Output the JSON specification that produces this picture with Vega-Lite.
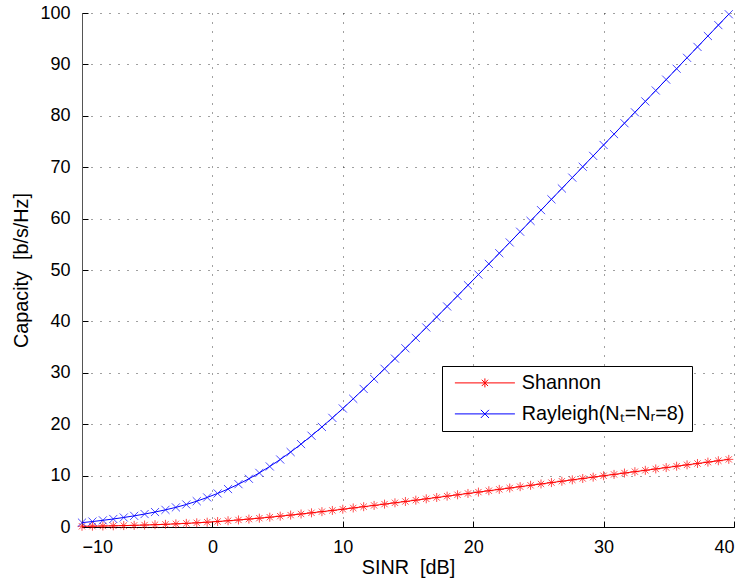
{
  "$schema": "https://vega.github.io/schema/vega-lite/v6.json",
  "width": 652,
  "height": 514,
  "autosize": {"type": "none"},
  "padding": {"left": 82, "top": 13, "right": 11, "bottom": 54},
  "background": "#ffffff",
  "data": {
    "values": [
      {"snr": -10, "Shannon": 0.1375, "Rayleigh": 0.85},
      {"snr": -9.2, "Shannon": 0.1637, "Rayleigh": 1.06},
      {"snr": -8.4, "Shannon": 0.1947, "Rayleigh": 1.3},
      {"snr": -7.6, "Shannon": 0.2312, "Rayleigh": 1.56},
      {"snr": -6.8, "Shannon": 0.2737, "Rayleigh": 1.85},
      {"snr": -6, "Shannon": 0.3233, "Rayleigh": 2.17},
      {"snr": -5.2, "Shannon": 0.3807, "Rayleigh": 2.52},
      {"snr": -4.4, "Shannon": 0.4469, "Rayleigh": 2.91},
      {"snr": -3.6, "Shannon": 0.5225, "Rayleigh": 3.34},
      {"snr": -2.8, "Shannon": 0.6086, "Rayleigh": 3.82},
      {"snr": -2, "Shannon": 0.7058, "Rayleigh": 4.38},
      {"snr": -1.2, "Shannon": 0.8144, "Rayleigh": 5.02},
      {"snr": -0.4, "Shannon": 0.9351, "Rayleigh": 5.75},
      {"snr": 0.4, "Shannon": 1.068, "Rayleigh": 6.53},
      {"snr": 1.2, "Shannon": 1.2131, "Rayleigh": 7.38},
      {"snr": 2, "Shannon": 1.3701, "Rayleigh": 8.33},
      {"snr": 2.8, "Shannon": 1.5388, "Rayleigh": 9.38},
      {"snr": 3.6, "Shannon": 1.7185, "Rayleigh": 10.53},
      {"snr": 4.4, "Shannon": 1.9085, "Rayleigh": 11.78},
      {"snr": 5.2, "Shannon": 2.1081, "Rayleigh": 13.13},
      {"snr": 6, "Shannon": 2.3165, "Rayleigh": 14.58},
      {"snr": 6.8, "Shannon": 2.5326, "Rayleigh": 16.13},
      {"snr": 7.6, "Shannon": 2.7558, "Rayleigh": 17.76},
      {"snr": 8.4, "Shannon": 2.9852, "Rayleigh": 19.46},
      {"snr": 9.2, "Shannon": 3.22, "Rayleigh": 21.23},
      {"snr": 10, "Shannon": 3.4594, "Rayleigh": 23.06},
      {"snr": 10.8, "Shannon": 3.703, "Rayleigh": 24.94},
      {"snr": 11.6, "Shannon": 3.9499, "Rayleigh": 26.86},
      {"snr": 12.4, "Shannon": 4.1999, "Rayleigh": 28.81},
      {"snr": 13.2, "Shannon": 4.4524, "Rayleigh": 30.78},
      {"snr": 14, "Shannon": 4.707, "Rayleigh": 32.76},
      {"snr": 14.8, "Shannon": 4.9635, "Rayleigh": 34.77},
      {"snr": 15.6, "Shannon": 5.2214, "Rayleigh": 36.79},
      {"snr": 16.4, "Shannon": 5.4807, "Rayleigh": 38.82},
      {"snr": 17.2, "Shannon": 5.7409, "Rayleigh": 40.86},
      {"snr": 18, "Shannon": 6.0022, "Rayleigh": 42.91},
      {"snr": 18.8, "Shannon": 6.2642, "Rayleigh": 44.97},
      {"snr": 19.6, "Shannon": 6.5267, "Rayleigh": 47.04},
      {"snr": 20.4, "Shannon": 6.7899, "Rayleigh": 49.11},
      {"snr": 21.2, "Shannon": 7.0534, "Rayleigh": 51.19},
      {"snr": 22, "Shannon": 7.3173, "Rayleigh": 53.27},
      {"snr": 22.8, "Shannon": 7.5815, "Rayleigh": 55.36},
      {"snr": 23.6, "Shannon": 7.846, "Rayleigh": 57.45},
      {"snr": 24.4, "Shannon": 8.1107, "Rayleigh": 59.55},
      {"snr": 25.2, "Shannon": 8.3756, "Rayleigh": 61.65},
      {"snr": 26, "Shannon": 8.6406, "Rayleigh": 63.75},
      {"snr": 26.8, "Shannon": 8.9058, "Rayleigh": 65.86},
      {"snr": 27.6, "Shannon": 9.171, "Rayleigh": 67.97},
      {"snr": 28.4, "Shannon": 9.4364, "Rayleigh": 70.08},
      {"snr": 29.2, "Shannon": 9.7018, "Rayleigh": 72.2},
      {"snr": 30, "Shannon": 9.9672, "Rayleigh": 74.32},
      {"snr": 30.8, "Shannon": 10.2327, "Rayleigh": 76.44},
      {"snr": 31.6, "Shannon": 10.4982, "Rayleigh": 78.56},
      {"snr": 32.4, "Shannon": 10.7637, "Rayleigh": 80.68},
      {"snr": 33.2, "Shannon": 11.0292, "Rayleigh": 82.8},
      {"snr": 34, "Shannon": 11.2948, "Rayleigh": 84.92},
      {"snr": 34.8, "Shannon": 11.5603, "Rayleigh": 87.04},
      {"snr": 35.6, "Shannon": 11.8259, "Rayleigh": 89.16},
      {"snr": 36.4, "Shannon": 12.0914, "Rayleigh": 91.28},
      {"snr": 37.2, "Shannon": 12.357, "Rayleigh": 93.4},
      {"snr": 38, "Shannon": 12.6226, "Rayleigh": 95.52},
      {"snr": 38.8, "Shannon": 12.8882, "Rayleigh": 97.64},
      {"snr": 39.6, "Shannon": 13.1538, "Rayleigh": 99.76}
    ]
  },
  "transform": [
    {"fold": ["Shannon", "Rayleigh"], "as": ["series", "capacity"]}
  ],
  "encoding": {
    "x": {
      "field": "snr", "type": "quantitative",
      "scale": {"domain": [-10, 40], "nice": false, "zero": false},
      "axis": {"title": "SINR \u00a0[dB]", "values": [-10, 0, 10, 20, 30, 40], "tickSize": -6, "labelPadding": 17, "titlePadding": 1}
    },
    "y": {
      "field": "capacity", "type": "quantitative",
      "scale": {"domain": [0, 100], "nice": false},
      "axis": {"title": "Capacity \u00a0[b/s/Hz]", "values": [0, 10, 20, 30, 40, 50, 60, 70, 80, 90, 100], "tickSize": -6, "labelPadding": 18, "titlePadding": 8}
    },
    "color": {
      "field": "series", "type": "nominal",
      "scale": {"domain": ["Shannon", "Rayleigh"], "range": ["#ff0000", "#0000ff"]},
      "legend": {
        "orient": "none", "legendX": 360, "legendY": 353,
        "title": null, "fillColor": "#ffffff", "strokeColor": "#000000", "padding": 7, "cornerRadius": 0,
        "labelFont": "Liberation Sans", "labelFontSize": 19.8, "labelColor": "#000000", "labelLimit": 400,
        "symbolType": "circle", "symbolSize": 81, "symbolStrokeWidth": 1, "symbolOffset": 26, "labelOffset": 27, "rowPadding": 10,
        "labelExpr": "datum.label == 'Rayleigh' ? 'Rayleigh(Nₜ=Nᵣ=8)' : datum.label",
        "encode": {"symbols": {"update": {
          "shape": {"signal": "datum.value == 'Shannon' ? 'M-6.67,0H6.67M0,-1V1M-0.7,-0.7L0.7,0.7M-0.7,0.7L0.7,-0.7' : 'M-6.67,0H6.67M-0.9,-0.9L0.9,0.9M-0.9,0.9L0.9,-0.9'"},
          "stroke": {"signal": "datum.value == 'Shannon' ? '#ff0000' : '#0000ff'"},
          "fill": {"value": "transparent"}
        }}}
      }
    }
  },
  "layer": [
    {
      "mark": {"type": "line", "strokeWidth": 1}
    },
    {
      "mark": {"type": "point", "filled": false, "strokeWidth": 1, "size": 81},
      "encoding": {
        "shape": {
          "field": "series", "type": "nominal",
          "scale": {"domain": ["Rayleigh", "Shannon"], "range": ["M-0.9,-0.9L0.9,0.9M-0.9,0.9L0.9,-0.9", "M-1,0H1M0,-1V1M-0.7,-0.7L0.7,0.7M-0.7,0.7L0.7,-0.7"]},
          "legend": null
        }
      }
    }
  ],
  "config": {
    "view": {"stroke": null},
    "font": "Liberation Sans",
    "axis": {
      "labelFont": "Liberation Sans", "labelFontSize": 18, "labelColor": "#000000",
      "titleFont": "Liberation Sans", "titleFontSize": 19.8, "titleFontWeight": "normal", "titleColor": "#000000",
      "domainColor": "#000000", "tickColor": "#000000",
      "gridColor": "#000000", "gridDash": [1, 8], "gridOpacity": 0.75, "gridWidth": 1
    },
    "axisY": {"domainColor": "#555555"}
  }
}
